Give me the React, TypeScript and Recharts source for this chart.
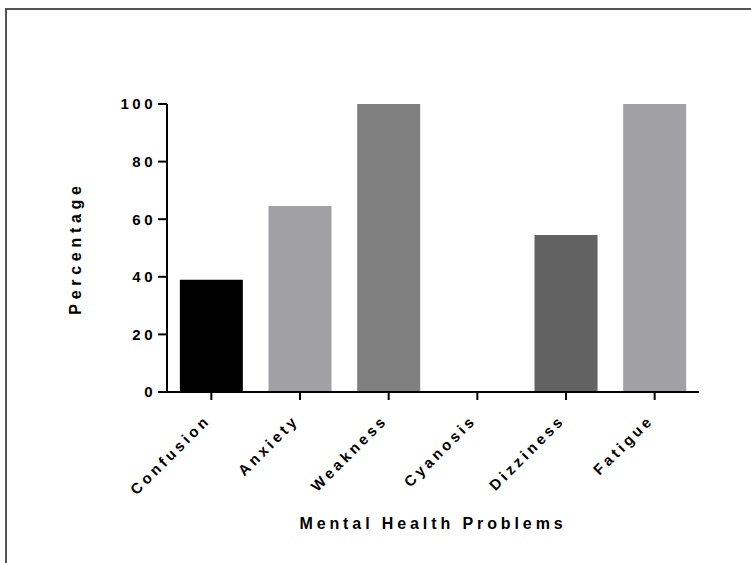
import React from "react";
import { BarChart, Bar, XAxis, YAxis, Cell, Label } from "recharts";

const categories = ["Confusion", "Anxiety", "Weakness", "Cyanosis", "Dizziness", "Fatigue"];
const percentages = [39, 64.6, 100, 0, 54.5, 100];
const yTicks = [0, 20, 40, 60, 80, 100];

const barFills = ["#000000", "#a1a0a5", "#808080", "#909090", "#626262", "#a1a0a5"];

const data = categories.map((name, i) => ({ name, value: percentages[i] }));

const FONT = "'Liberation Sans', Arial, sans-serif";

function XTick({ x, y, payload }: any) {
  return (
    <g transform={`translate(${x},${y + 19}) rotate(-45)`}>
      <text
        textAnchor="end"
        fontFamily={FONT}
        fontWeight="bold"
        fontSize={15}
        letterSpacing={3.5}
        fill="#000"
      >
        {payload.value}
      </text>
    </g>
  );
}

function YTitle({ viewBox }: any) {
  const cy = viewBox.y + viewBox.height / 2;
  const cx = viewBox.x + 75;
  return (
    <text
      transform={`translate(${cx},${cy}) rotate(-90)`}
      textAnchor="middle"
      dominantBaseline="central"
      fontFamily={FONT}
      fontWeight="bold"
      fontSize={16}
      letterSpacing={4.7}
      fill="#000"
    >
      Percentage
    </text>
  );
}

function XTitle({ viewBox }: any) {
  return (
    <text
      x={viewBox.x + viewBox.width / 2}
      y={viewBox.y + 131}
      textAnchor="middle"
      dominantBaseline="central"
      fontFamily={FONT}
      fontWeight="bold"
      fontSize={16}
      letterSpacing={3.9}
      fill="#000"
    >
      Mental Health Problems
    </text>
  );
}

export default function App() {
  return (
    <div
      style={{
        position: "absolute",
        left: 0,
        top: 0,
        width: 751,
        height: 563,
        background: "#fff",
        overflow: "hidden",
      }}
    >
      <div
        style={{
          position: "absolute",
          left: 5,
          top: 8,
          right: 0,
          bottom: 0,
          borderTop: "2px solid #555",
          borderLeft: "2px solid #555",
        }}
      />
      <div style={{ position: "absolute", left: 0, top: 0 }}>
        <BarChart
          width={751}
          height={563}
          data={data}
          margin={{ top: 104, right: 52, bottom: 0, left: 0 }}
          barCategoryGap="14.5%"
        >
          <XAxis
            dataKey="name"
            height={171}
            interval={0}
            tick={<XTick />}
            tickSize={8}
            tickMargin={2}
            axisLine={{ stroke: "#000", strokeWidth: 2 }}
            tickLine={{ stroke: "#000", strokeWidth: 2 }}
          >
            <Label content={<XTitle />} />
          </XAxis>
          <YAxis
            width={167}
            domain={[0, 100]}
            ticks={yTicks}
            interval={0}
            tickSize={9}
            tickMargin={2}
            axisLine={{ stroke: "#000", strokeWidth: 2 }}
            tickLine={{ stroke: "#000", strokeWidth: 2 }}
            tick={{
              fill: "#000",
              fontFamily: FONT,
              fontWeight: "bold",
              fontSize: 15,
              letterSpacing: 3.5,
            }}
          >
            <Label content={<YTitle />} />
          </YAxis>
          <Bar dataKey="value" isAnimationActive={false}>
            {data.map((d, i) => (
              <Cell key={d.name} fill={barFills[i]} />
            ))}
          </Bar>
        </BarChart>
      </div>
    </div>
  );
}
